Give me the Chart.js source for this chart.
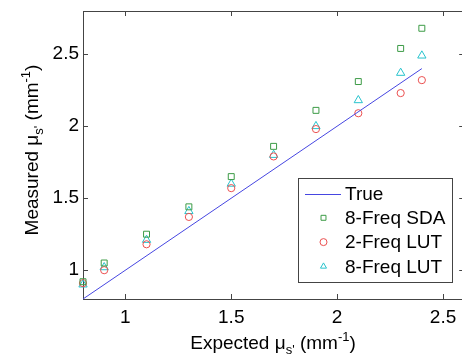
<!DOCTYPE html>
<html>
<head>
<meta charset="utf-8">
<script src="https://cdn.jsdelivr.net/npm/chart.js@4.4.1/dist/chart.umd.min.js"></script>
<style>
  html, body { margin: 0; padding: 0; background: #fff; overflow: hidden; }
  #wrap { width: 462px; height: 354px; overflow: hidden; position: relative; }
  #chartCanvas { position: absolute; left: 0; top: 0; }
</style>
</head>
<body>
<div id="wrap"><canvas id="chartCanvas" width="470" height="354"></canvas></div>
<script>
// data
const expected = [0.8, 0.9, 1.1, 1.3, 1.5, 1.7, 1.9, 2.1, 2.3, 2.4];
const sda8 = [0.92, 1.05, 1.25, 1.44, 1.65, 1.86, 2.11, 2.31, 2.54, 2.68];
const lut2 = [0.91, 1.00, 1.18, 1.37, 1.57, 1.79, 1.98, 2.09, 2.23, 2.32];
const lut8 = [0.90, 1.02, 1.21, 1.41, 1.60, 1.80, 2.00, 2.18, 2.37, 2.49];
const trueX = [0.8, 2.4];
const trueY = [0.8, 2.4];
const xTicks = [1, 1.5, 2, 2.5];
const yTicks = [1, 1.5, 2, 2.5];
const names = ['True', '8-Freq SDA', '2-Freq LUT', '8-Freq LUT'];

const FONT = '"Liberation Sans", Arial, sans-serif';
const AXIS = '#444';

const pts = (xs, ys) => xs.map((x, i) => ({ x: x, y: ys[i] }));

function richText(ctx, parts, x, y) {
  let w = 0;
  parts.forEach(p => {
    ctx.font = p.size + 'px ' + FONT;
    p.w = ctx.measureText(p.t).width;
    w += p.w;
  });
  let cx = x - w / 2;
  parts.forEach(p => {
    ctx.font = p.size + 'px ' + FONT;
    ctx.fillText(p.t, cx, y + (p.dy || 0));
    cx += p.w;
  });
}

function titleParts(word) {
  return [
    { t: word + ' \u03bc', size: 19 },
    { t: "s'", size: 13, dy: 5 },
    { t: ' (mm', size: 19 },
    { t: '-1', size: 13, dy: -8 },
    { t: ')', size: 19 }
  ];
}

// box, inward ticks, titles (matlab style)
const frame = {
  id: 'frame',
  beforeDatasetsDraw(chart) {
    const { ctx, chartArea: a, scales } = chart;
    ctx.save();
    ctx.strokeStyle = AXIS;
    ctx.lineWidth = 1;
    ctx.strokeRect(a.left + 0.5, a.top + 0.5, a.right - a.left, a.bottom - a.top);
    const tl = 5;
    ctx.beginPath();
    xTicks.forEach(v => {
      const px = Math.round(scales.x.getPixelForValue(v)) + 0.5;
      ctx.moveTo(px, a.bottom); ctx.lineTo(px, a.bottom - tl);
      ctx.moveTo(px, a.top); ctx.lineTo(px, a.top + tl);
    });
    yTicks.forEach(v => {
      const py = Math.round(scales.y.getPixelForValue(v)) + 0.5;
      ctx.moveTo(a.left, py); ctx.lineTo(a.left + tl, py);
      ctx.moveTo(a.right, py); ctx.lineTo(a.right - tl, py);
    });
    ctx.stroke();
    ctx.restore();
  },
  afterDraw(chart) {
    const { ctx } = chart;
    ctx.save();
    ctx.fillStyle = '#000';
    ctx.textBaseline = 'alphabetic';
    richText(ctx, titleParts('Expected'), 273, 349);
    ctx.translate(38, 150);
    ctx.rotate(-Math.PI / 2);
    richText(ctx, titleParts('Measured'), 0, 0);
    ctx.restore();
  }
};

// legend box inside the plot
const legendBox = {
  id: 'legendBox',
  afterDatasetsDraw(chart) {
    const { ctx } = chart;
    const bx = 298, by = 178, bw = 154, bh = 104;
    ctx.save();
    ctx.fillStyle = '#fff';
    ctx.fillRect(bx, by, bw, bh);
    ctx.strokeStyle = AXIS;
    ctx.lineWidth = 1;
    ctx.strokeRect(bx + 0.5, by + 0.5, bw, bh);
    chart.data.datasets.forEach((ds, i) => {
      const y = by + 15.5 + i * 24.3;
      if (ds.showLine) {
        ctx.strokeStyle = ds.borderColor;
        ctx.beginPath();
        ctx.moveTo(305, Math.round(y) + 0.5);
        ctx.lineTo(341, Math.round(y) + 0.5);
        ctx.stroke();
      } else {
        ctx.strokeStyle = ds.borderColor;
        ctx.fillStyle = 'rgba(0,0,0,0)';
        ctx.lineWidth = 1;
        Chart.helpers.drawPoint(ctx, { pointStyle: ds.pointStyle, radius: 3.5, rotation: 0, borderWidth: 1 }, 323.5, y);
      }
      ctx.fillStyle = '#000';
      ctx.font = '19px ' + FONT;
      ctx.textBaseline = 'middle';
      ctx.fillText(names[i], 345, y + 1);
    });
    ctx.restore();
  }
};

const marker = (data, style, color, r, label) => ({
  label: label,
  data: data,
  showLine: false,
  pointStyle: style,
  pointRadius: r,
  pointHoverRadius: r,
  pointBorderWidth: 1,
  pointHoverBorderWidth: 1,
  borderColor: color,
  pointBorderColor: color,
  pointHoverBorderColor: color,
  pointBackgroundColor: 'rgba(0,0,0,0)',
  pointHoverBackgroundColor: 'rgba(0,0,0,0)',
  clip: false
});

const ctx = document.getElementById('chartCanvas').getContext('2d');

new Chart(ctx, {
  type: 'scatter',
  data: {
    datasets: [
      {
        label: names[0],
        data: pts(trueX, trueY),
        showLine: true,
        borderColor: 'rgb(70,70,225)',
        borderWidth: 1,
        pointRadius: 0,
        clip: false
      },
      marker(pts(expected, sda8), 'rect', 'rgb(60,155,70)', 4.2, names[1]),
      marker(pts(expected, lut2), 'circle', 'rgb(235,80,80)', 3.6, names[2]),
      marker(pts(expected, lut8), 'triangle', 'rgb(40,195,205)', 4.8, names[3])
    ]
  },
  options: {
    responsive: false,
    animation: false,
    events: [],
    // canvas is wider than the window: the right edge of the box is cropped off like the original
    layout: { padding: { top: 11, right: 4, left: 0, bottom: 0 } },
    plugins: {
      legend: { display: false },
      tooltip: { enabled: false }
    },
    scales: {
      x: {
        type: 'linear',
        min: 0.8,
        max: 2.6,
        afterBuildTicks: s => { s.ticks = xTicks.map(v => ({ value: v })); },
        afterFit: s => { s.height = 55; s.paddingLeft = 0; s.paddingRight = 0; },
        grid: { display: false, drawTicks: false },
        border: { display: false },
        ticks: { color: '#000', padding: 7, font: { family: FONT, size: 19 }, callback: v => String(v) }
      },
      y: {
        type: 'linear',
        min: 0.8,
        max: 2.8,
        afterBuildTicks: s => { s.ticks = yTicks.map(v => ({ value: v })); },
        afterFit: s => { s.width = 83; s.paddingTop = 0; s.paddingBottom = 0; },
        grid: { display: false, drawTicks: false },
        border: { display: false },
        ticks: { color: '#000', padding: 4, font: { family: FONT, size: 19 }, callback: v => String(v) }
      }
    }
  },
  plugins: [frame, legendBox]
});
</script>
</body>
</html>
